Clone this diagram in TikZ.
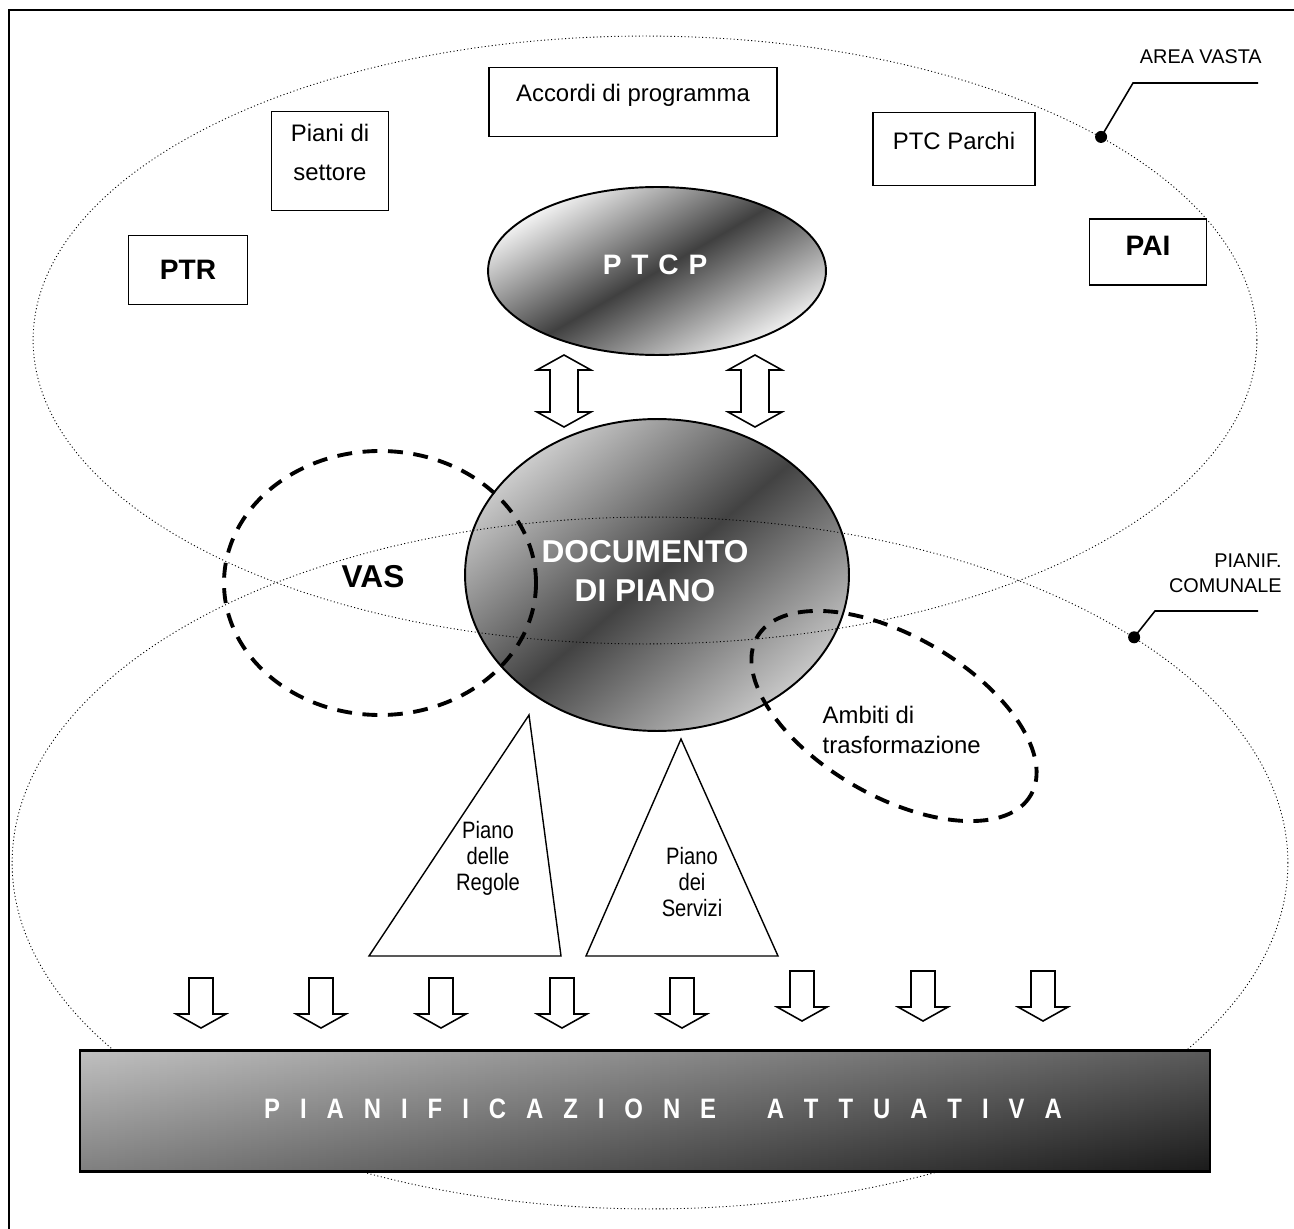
\documentclass[tikz,border=0pt]{standalone}
\usepackage{fontspec}
\setmainfont{Liberation Sans}
\newfontfamily\narrowfont[FakeStretch=0.85]{Liberation Sans}
\usetikzlibrary{shapes.geometric,positioning,calc}

\tikzset{
    dblarrow/.pic={\draw[blockarrow] (0,0) -- (27,15) -- (14,15) -- (14,57) -- (27,57) -- (0,72) -- (-27,57) -- (-14,57) -- (-14,15) -- (-27,15) -- cycle;},
    downarrow/.pic={\draw[blockarrow] (-12,0) -- (12,0) -- (12,36) -- (25,36) -- (0,50) -- (-25,36) -- (-12,36) -- cycle;}
}

\begin{document}
\begin{tikzpicture}[
    x=0.02cm, y=-0.02cm,
    box/.style={draw, line width=0.8pt, align=center, inner sep=0pt, font=\fontsize{13.6}{17}\selectfont},
    boldbox/.style={box, font=\fontsize{16}{19}\selectfont\bfseries},
    zone/.style={ellipse, draw, line width=0.5pt, dash pattern=on 0.6pt off 1.4pt, inner sep=0pt},
    dashzone/.style={line width=2.2pt, dash pattern=on 8.5pt off 6pt},
    shadedball/.style={ellipse, draw, line width=1.1pt, inner sep=0pt},
    whitetext/.style={text=white, align=center, inner sep=0pt},
    blockarrow/.style={draw, line width=0.9pt, fill=white},
    tri/.style={draw, line width=0.8pt},
    leader/.style={line width=0.9pt},
    tag/.style={inner sep=0pt, font=\fontsize{11.3}{14}\selectfont},
    tritext/.style={inner sep=0pt, align=center, font=\narrowfont\fontsize{13.5}{14.8}\selectfont}
]
\useasboundingbox (0,0) rectangle (1294,1229);
\draw[line width=1.1pt] (9,1229) -- (9,10) -- (1294,10);

\node[shadedball, minimum width=6.76cm, minimum height=3.36cm, top color=black!3, bottom color=black!5, middle color=black!75,
      shading angle=30] (ptcp) at (657,271) {};
\node[whitetext, font=\fontsize{16}{19}\selectfont\bfseries] (ptcptext) at (655,265) {\spaceskip=.35em P T C P};
\node[shadedball, minimum width=7.68cm, minimum height=6.24cm, top color=black!20, bottom color=black!22, middle color=black!74,
      shading angle=40] (docpiano) at (657,575) {};
\node[whitetext, font=\fontsize{18}{22}\selectfont\bfseries] (doctext) at (645,571) {DOCUMENTO\\DI PIANO};

\node[zone, minimum width=24.48cm, minimum height=12.16cm] (vasta) at (645,340) {};
\node[zone, minimum width=25.52cm, minimum height=13.84cm] (comunale) at (650,863) {};

\node[box, minimum width=5.76cm, minimum height=1.38cm, text depth=10pt] (accordi) at (633,102) {Accordi di programma};
\node[box, minimum width=2.34cm, minimum height=1.98cm, font=\fontsize{13.6}{22}\selectfont, text depth=10pt] (settore) at (330,161) {Piani di\\settore};
\node[box, minimum width=3.24cm, minimum height=1.46cm, text depth=9pt] (parchi) at (954,149) {PTC Parchi};
\node[boldbox, minimum width=2.38cm, minimum height=1.38cm] (ptr) at (188,270) {PTR};
\node[boldbox, minimum width=2.34cm, minimum height=1.32cm, text depth=7pt] (pai) at (1148,252) {PAI};

\pic (link1) at (564,355) {dblarrow};
\pic (link2) at (755,355) {dblarrow};

\draw[dashzone] (380,583) ellipse [x radius=156, y radius=132];
\node[font=\fontsize{18}{22}\selectfont\bfseries] (vas) at (373,577) {VAS};
\draw[dashzone, rotate around={-30:(894,716)}] (894,716) ellipse [x radius=158, y radius=80];
\node[box, draw=none, align=left, anchor=west] (ambiti) at (822,730) {Ambiti di\\trasformazione};

\coordinate (rg1) at (529,715);
\coordinate (rg2) at (369,956);
\coordinate (rg3) at (561,956);
\draw[tri] (rg1) -- (rg2) -- (rg3) -- cycle;
\node[tritext] (regole) at (488,858) {Piano\\delle\\Regole};
\coordinate (sv1) at (681,739);
\coordinate (sv2) at (586,956);
\coordinate (sv3) at (778,956);
\draw[tri] (sv1) -- (sv2) -- (sv3) -- cycle;
\node[tritext] (servizi) at (692,882) {Piano\\dei\\Servizi};

\pic (down1) at (201,978) {downarrow};
\pic (down2) at (321,978) {downarrow};
\pic (down3) at (441,978) {downarrow};
\pic (down4) at (562,978) {downarrow};
\pic (down5) at (682,978) {downarrow};
\pic (down6) at (802,971) {downarrow};
\pic (down7) at (923,971) {downarrow};
\pic (down8) at (1043,971) {downarrow};

\node[draw, line width=1.3pt, inner sep=0pt, minimum width=22.6cm, minimum height=2.42cm, left color=black!33, right color=black!86,
      path picture={\shade[top color=white, bottom color=black, opacity=0.25] (path picture bounding box.north west) rectangle (path picture bounding box.south east);}]
      (attuativa) at (645,1111) {};
\node[whitetext, font=\narrowfont\fontsize{16}{19}\selectfont\bfseries] (attuativatext) at (663,1109)
      {\spaceskip=.71em P I A N I F I C A Z I O N E\hspace{1.8em}A T T U A T I V A};

\node[tag, anchor=east] (areavasta) at (1262,57) {AREA VASTA};
\coordinate (avbend) at (1133,83);
\coordinate (avend) at (1258,83);
\draw[leader] (vasta.24) -- (avbend) -- (avend);
\fill (vasta.24) circle[radius=6];

\node[tag, align=right, anchor=east] (pianif) at (1282,573) {PIANIF.\\COMUNALE};
\coordinate (pcbend) at (1155,611);
\coordinate (pcend) at (1258,611);
\draw[leader] (comunale.25) -- (pcbend) -- (pcend);
\fill (comunale.25) circle[radius=6];
\end{tikzpicture}
\end{document}
